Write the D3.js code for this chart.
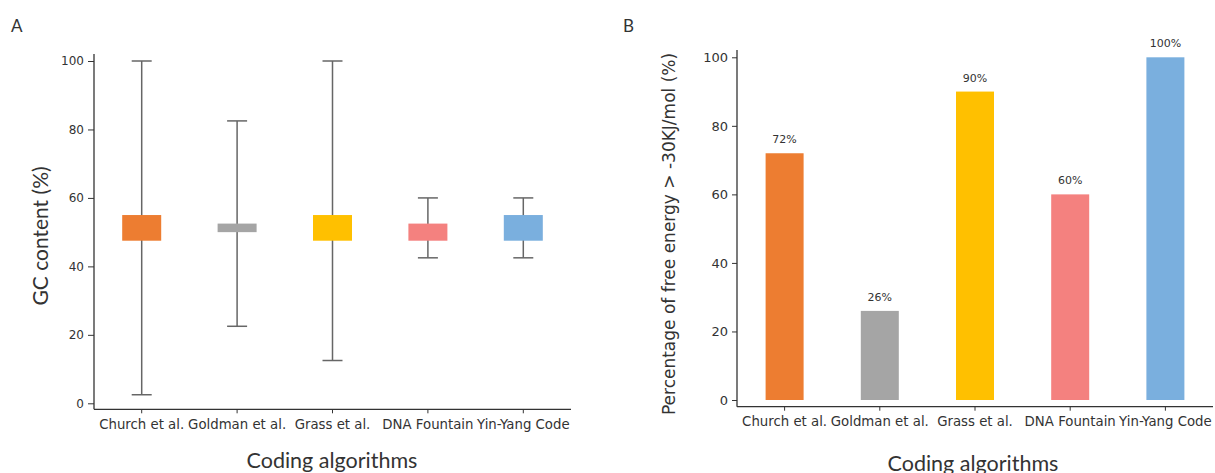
<!DOCTYPE html>
<html>
<head>
<meta charset="utf-8">
<script src="https://cdn.jsdelivr.net/npm/d3@7"></script>
<style>
  body { margin: 0; background: #fff; }
  svg text { fill: #333; }
</style>
</head>
<body>
<svg id="chart" width="1215" height="473"></svg>
<script>
// data
var categories = ["Church et al.", "Goldman et al.", "Grass et al.", "DNA Fountain", "Yin-Yang Code"];
var gcMin = [2.5, 22.5, 12.5, 42.5, 42.5];
var gcQ1 = [47.5, 50, 47.5, 47.5, 47.5];
var gcQ3 = [55, 52.5, 55, 52.5, 55];
var gcMax = [100, 82.5, 100, 60, 60];
var freeEnergyPct = [72, 26, 90, 60, 100];
var yTicks = [0, 20, 40, 60, 80, 100];
var colors = ["#ED7D31", "#A5A5A5", "#FFC000", "#F4817F", "#7AAFDE"];

var svg = d3.select("#chart");
var tickFont = "'DejaVu Sans', sans-serif";
var titleFont = "Lato, 'Open Sans', sans-serif";

function drawAxes(g, x, y, left, right, bottom, top, yTickSize) {
  // spines
  g.append("line").attr("x1", left).attr("x2", left).attr("y1", bottom).attr("y2", top)
    .attr("stroke", "#333").attr("stroke-width", 1.3);
  g.append("line").attr("x1", left).attr("x2", right).attr("y1", bottom).attr("y2", bottom)
    .attr("stroke", "#333").attr("stroke-width", 1.3);

  var ya = g.append("g").attr("transform", "translate(" + left + ",0)")
    .call(d3.axisLeft(y).tickValues(yTicks).tickSize(yTickSize).tickSizeOuter(0).tickPadding(4));
  ya.select(".domain").remove();
  ya.selectAll("line").attr("stroke", "#333");
  ya.selectAll("text").style("font-family", tickFont).style("font-size", yTickSize == 6 ? "12px" : "13px").attr("fill", "#333");

  var xa = g.append("g").attr("transform", "translate(0," + bottom + ")")
    .call(d3.axisBottom(x).tickSize(4).tickSizeOuter(0).tickPadding(6));
  xa.select(".domain").remove();
  xa.selectAll("line").attr("stroke", "#333");
  xa.selectAll("text").style("font-family", tickFont).style("font-size", "13.3px").attr("fill", "#333");
}

// ---------- panel A : GC content ----------
var gA = svg.append("g").attr("id", "panelA");
var xA = d3.scaleBand().domain(categories).range([94, 571]);
var yA = d3.scaleLinear().domain([0, 100]).range([403.3, 61]);
var boxW = 39, capW = 20;

gA.append("text").attr("x", 11).attr("y", 32).text("A")
  .style("font-family", titleFont).style("font-size", "17px");

var boxes = gA.selectAll(".box").data(categories).enter().append("g").attr("class", "box");
boxes.append("line")
  .attr("x1", function(d) { return xA(d) + xA.bandwidth() / 2; })
  .attr("x2", function(d) { return xA(d) + xA.bandwidth() / 2; })
  .attr("y1", function(d, i) { return yA(gcMin[i]); })
  .attr("y2", function(d, i) { return yA(gcMax[i]); })
  .attr("stroke", "#666").attr("stroke-width", 1.5);
boxes.append("line")
  .attr("x1", function(d) { return xA(d) + xA.bandwidth() / 2 - capW / 2; })
  .attr("x2", function(d) { return xA(d) + xA.bandwidth() / 2 + capW / 2; })
  .attr("y1", function(d, i) { return yA(gcMax[i]); })
  .attr("y2", function(d, i) { return yA(gcMax[i]); })
  .attr("stroke", "#666").attr("stroke-width", 1.5);
boxes.append("line")
  .attr("x1", function(d) { return xA(d) + xA.bandwidth() / 2 - capW / 2; })
  .attr("x2", function(d) { return xA(d) + xA.bandwidth() / 2 + capW / 2; })
  .attr("y1", function(d, i) { return yA(gcMin[i]); })
  .attr("y2", function(d, i) { return yA(gcMin[i]); })
  .attr("stroke", "#666").attr("stroke-width", 1.5);
boxes.append("rect")
  .attr("x", function(d) { return xA(d) + xA.bandwidth() / 2 - boxW / 2; })
  .attr("width", boxW)
  .attr("y", function(d, i) { return yA(gcQ3[i]); })
  .attr("height", function(d, i) { return yA(gcQ1[i]) - yA(gcQ3[i]); })
  .attr("fill", function(d, i) { return colors[i]; });

drawAxes(gA, xA, yA, 94, 571, 409.3, 54, 6);

gA.append("text").attr("transform", "translate(48,236) rotate(-90)")
  .attr("text-anchor", "middle").text("GC content (%)")
  .style("font-family", titleFont).style("font-size", "21px").attr("fill", "#222");
gA.append("text").attr("x", 332).attr("y", 468).attr("text-anchor", "middle")
  .text("Coding algorithms")
  .style("font-family", titleFont).style("font-size", "21.5px").attr("fill", "#222");

// ---------- panel B : free energy ----------
var gB = svg.append("g").attr("id", "panelB");
var xB = d3.scaleBand().domain(categories).range([737, 1213]);
var yB = d3.scaleLinear().domain([0, 100]).range([400, 57.3]);
var barW = 38;

gB.append("text").attr("x", 623).attr("y", 32).text("B")
  .style("font-family", titleFont).style("font-size", "17px");

gB.selectAll(".bar").data(categories).enter().append("rect").attr("class", "bar")
  .attr("x", function(d) { return xB(d) + xB.bandwidth() / 2 - barW / 2; })
  .attr("width", barW)
  .attr("y", function(d, i) { return yB(freeEnergyPct[i]); })
  .attr("height", function(d, i) { return yB(0) - yB(freeEnergyPct[i]); })
  .attr("fill", function(d, i) { return colors[i]; });

gB.selectAll(".barlabel").data(categories).enter().append("text").attr("class", "barlabel")
  .attr("x", function(d) { return xB(d) + xB.bandwidth() / 2; })
  .attr("y", function(d, i) { return yB(freeEnergyPct[i]) - 10; })
  .attr("text-anchor", "middle")
  .text(function(d, i) { return freeEnergyPct[i] + "%"; })
  .style("font-family", tickFont).style("font-size", "11px");

drawAxes(gB, xB, yB, 737, 1213, 406.7, 50, 5);

gB.append("text").attr("transform", "translate(675,234) rotate(-90)")
  .attr("text-anchor", "middle").text("Percentage of free energy > -30KJ/mol (%)")
  .style("font-family", tickFont).style("font-size", "17px").attr("fill", "#222");
gB.append("text").attr("x", 973).attr("y", 471).attr("text-anchor", "middle")
  .text("Coding algorithms")
  .style("font-family", titleFont).style("font-size", "21.5px").attr("fill", "#222");
</script>
</body>
</html>
